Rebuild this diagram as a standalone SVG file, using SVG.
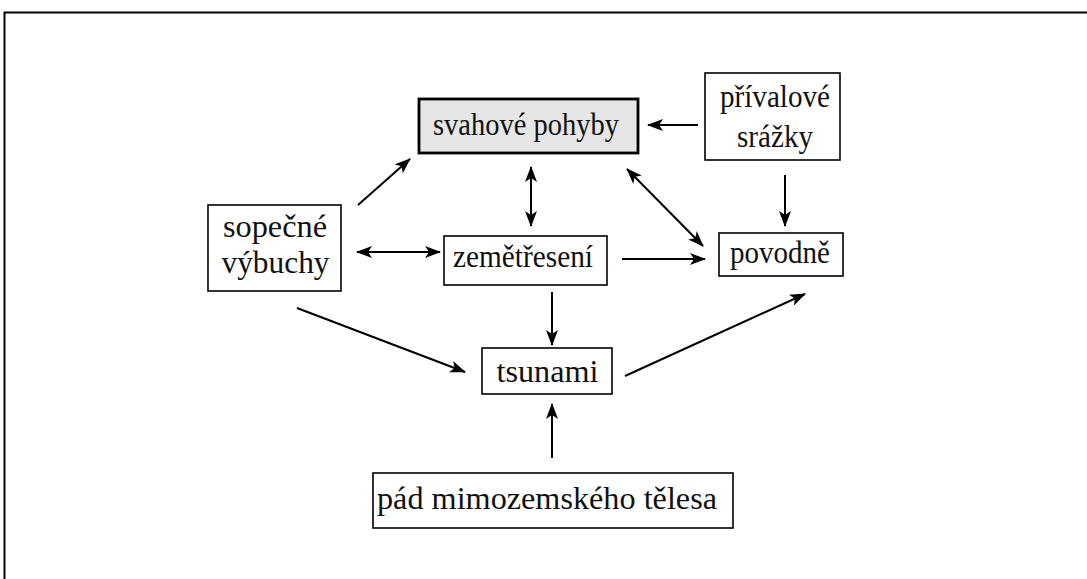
<svg xmlns="http://www.w3.org/2000/svg" width="1087" height="579" viewBox="0 0 1087 579">
<style>
.box{fill:#fff;stroke:#000;stroke-width:1.6}
.main{fill:#e6e6e6;stroke:#000;stroke-width:2.8}
.t{font-family:"Liberation Serif","Times New Roman",serif;font-size:31px;fill:#111;text-anchor:middle}
.c{stroke:#000;stroke-width:2;fill:none}
</style>
<defs>
<marker id="ah" viewBox="0 0 16 12" refX="15" refY="6" markerWidth="16" markerHeight="12" markerUnits="userSpaceOnUse" orient="auto-start-reverse">
<path d="M0,0 L16,6 L0,12 L4,6 z" fill="#000"/>
</marker>
</defs>
<rect width="1087" height="579" fill="#fff"/>
<g id="frame">
<path d="M4.5,580 V12.5 H1090" fill="none" stroke="#000" stroke-width="2"/>
</g>
<g id="svahove">
<rect class="main" x="419" y="99" width="219" height="54"/>
<text class="t" x="526" y="135" textLength="186" lengthAdjust="spacingAndGlyphs">svahové pohyby</text>
</g>
<g id="privalove">
<rect class="box" x="705" y="73" width="135" height="87"/>
<text class="t" x="775" y="107" textLength="110" lengthAdjust="spacingAndGlyphs">přívalové</text>
<text class="t" x="775" y="147" textLength="76" lengthAdjust="spacingAndGlyphs">srážky</text>
</g>
<g id="sopecne">
<rect class="box" x="208" y="205" width="133" height="86"/>
<text class="t" x="275" y="237" textLength="104" lengthAdjust="spacingAndGlyphs">sopečné</text>
<text class="t" x="275.5" y="273" textLength="108" lengthAdjust="spacingAndGlyphs">výbuchy</text>
</g>
<g id="zemetreseni">
<rect class="box" x="444" y="236" width="163" height="49"/>
<text class="t" x="523" y="267" textLength="140" lengthAdjust="spacingAndGlyphs">zemětřesení</text>
</g>
<g id="povodne">
<rect class="box" x="719" y="233" width="124" height="43"/>
<text class="t" x="780" y="263" textLength="100" lengthAdjust="spacingAndGlyphs">povodně</text>
</g>
<g id="tsunami">
<rect class="box" x="482" y="348" width="130" height="46"/>
<text class="t" x="547.5" y="382" textLength="102" lengthAdjust="spacingAndGlyphs">tsunami</text>
</g>
<g id="pad">
<rect class="box" x="373" y="473" width="360" height="55"/>
<text class="t" x="547" y="509" textLength="340" lengthAdjust="spacingAndGlyphs">pád mimozemského tělesa</text>
</g>
<g id="connectors">
<line class="c" x1="698" y1="125" x2="648" y2="125" marker-end="url(#ah)"/>
<line class="c" x1="358" y1="205" x2="410" y2="159" marker-end="url(#ah)"/>
<line class="c" x1="531" y1="167" x2="531" y2="226" marker-start="url(#ah)" marker-end="url(#ah)"/>
<line class="c" x1="627" y1="169" x2="703" y2="246" marker-start="url(#ah)" marker-end="url(#ah)"/>
<line class="c" x1="785" y1="175" x2="785" y2="226" marker-end="url(#ah)"/>
<line class="c" x1="357" y1="252" x2="440" y2="252" marker-start="url(#ah)" marker-end="url(#ah)"/>
<line class="c" x1="622" y1="259" x2="705" y2="259" marker-end="url(#ah)"/>
<line class="c" x1="552" y1="292" x2="552" y2="345" marker-end="url(#ah)"/>
<line class="c" x1="297" y1="308" x2="465" y2="372" marker-end="url(#ah)"/>
<line class="c" x1="625" y1="376" x2="805" y2="294" marker-end="url(#ah)"/>
<line class="c" x1="552" y1="458" x2="552" y2="404" marker-end="url(#ah)"/>
</g>
</svg>
